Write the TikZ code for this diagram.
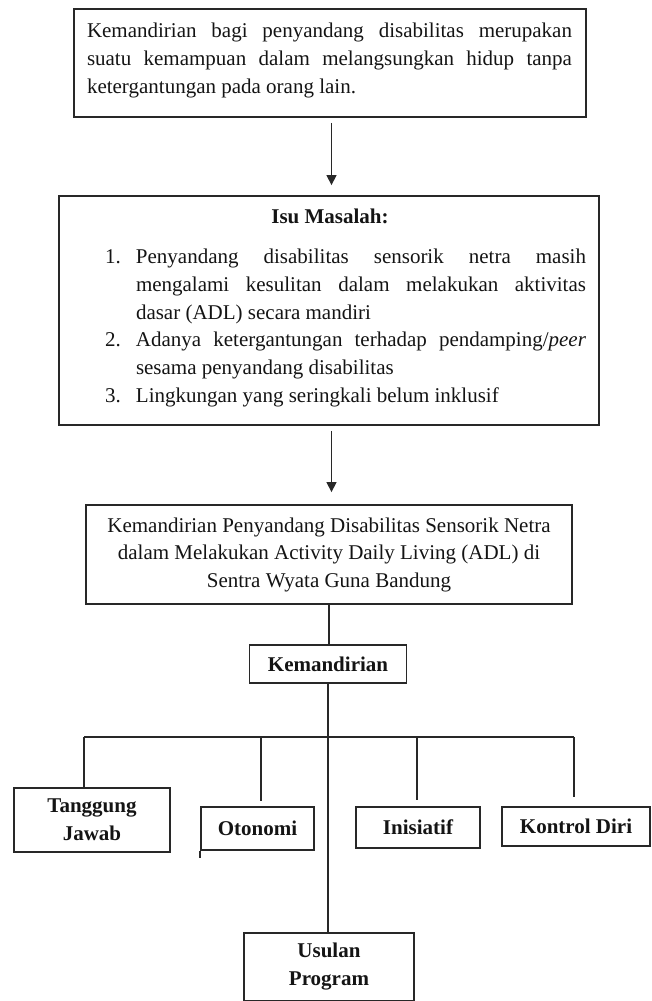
\documentclass[tikz,border=0pt]{standalone}
\usepackage{fontspec}
\setmainfont{Liberation Serif}
\usetikzlibrary{arrows.meta}
\definecolor{lineC}{RGB}{40,40,40}
\definecolor{txtC}{RGB}{20,20,20}
\begin{document}
\begin{tikzpicture}[x=1pt,y=-1pt,
  box/.style={draw=lineC, line width=1.8pt, inner sep=0pt, text=txtC},
  conn/.style={draw=lineC, line width=1.3pt},
  arr/.style={conn, -{Triangle[length=10pt,width=10pt]}},
  lbl/.style={font=\bfseries\fontsize{21}{28}\selectfont, align=center},
  plain/.style={inner sep=0pt, text=txtC}]
\useasboundingbox (0,0) rectangle (651,1001);

% Box 1
\node[box, minimum width=512pt, minimum height=108pt] (b1) at (330,63) {};
\node[plain] (t1) at (329.5,60) {\parbox{485pt}{\fontsize{21}{28}\selectfont
Kemandirian bagi penyandang disabilitas merupakan\linebreak
suatu kemampuan dalam melangsungkan hidup tanpa\linebreak
ketergantungan pada orang lain.}};

% Box 2
\node[box, minimum width=540pt, minimum height=229pt] (b2) at (329,310.5) {};
\node[plain, font=\bfseries\fontsize{21}{28}\selectfont] (isu) at (330,216) {Isu Masalah:};
\node[plain] (items) at (345.5,328) {\parbox{481pt}{\fontsize{21}{27.8}\selectfont
\hangindent=31pt\hangafter=1\noindent\makebox[31pt][l]{1.}Penyandang disabilitas sensorik netra masih\linebreak
mengalami kesulitan dalam melakukan aktivitas\linebreak
dasar (ADL) secara mandiri\par
\hangindent=31pt\hangafter=1\noindent\makebox[31pt][l]{2.}Adanya ketergantungan terhadap pendamping/\textit{peer}\linebreak
sesama penyandang disabilitas\par
\hangindent=31pt\hangafter=1\noindent\makebox[31pt][l]{3.}Lingkungan yang seringkali belum inklusif\par}};

% Box 3
\node[box, minimum width=486pt, minimum height=99pt, align=center,
      font=\fontsize{21}{27.5}\selectfont] (b3) at (329,554.5)
  {Kemandirian Penyandang Disabilitas Sensorik Netra\\
   dalam Melakukan Activity Daily Living (ADL) di\\
   Sentra Wyata Guna Bandung};

% Kemandirian
\node[box, lbl, minimum width=157pt, minimum height=38pt] (kem) at (328,664) {Kemandirian};

% Children
\node[box, lbl, minimum width=156pt, minimum height=64pt] (tj) at (92,820) {Tanggung\\Jawab};
\node[box, lbl, minimum width=113pt, minimum height=43pt] (oto) at (257.5,828.5) {Otonomi};
\node[box, lbl, minimum width=124pt, minimum height=41pt] (ini) at (418,827.5) {Inisiatif};
\node[box, lbl, minimum width=148pt, minimum height=39pt] (kd) at (576,826.5) {Kontrol Diri};
\node[box, lbl, minimum width=170pt, minimum height=68pt] (usul) at (329,967) {Usulan\\Program};

% Connectors
\coordinate (a1) at ([xshift=1.5pt]b1.south);
\coordinate (a2) at ([xshift=2.5pt]b2.south);
\draw[arr, shorten <=5pt, shorten >=10pt] (a1) -- (a1 |- b2.north);
\draw[arr, shorten <=5pt, shorten >=12pt] (a2) -- (a2 |- b3.north);
\draw[conn] (b3.south) -- (b3.south |- kem.north);
\draw[conn] (kem.south) -- (kem.south |- usul.north);

\coordinate (bL) at (84,737);
\coordinate (bO) at (261,737);
\coordinate (bI) at (417,737);
\coordinate (bR) at (574,737);
\draw[conn] (bL) -- (bR);
\draw[conn] (bL) -- (bL |- tj.north);
\draw[conn, shorten >=5pt] (bO) -- (bO |- oto.north);
\draw[conn, shorten >=6pt] (bI) -- (bI |- ini.north);
\draw[conn, shorten >=9pt] (bR) -- (bR |- kd.north);
\draw[conn] (oto.south west) -- ++(0,7);
\end{tikzpicture}
\end{document}
